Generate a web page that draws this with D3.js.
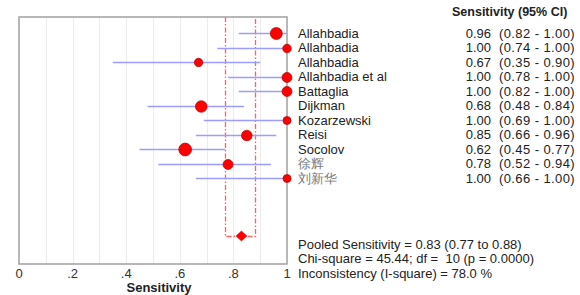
<!DOCTYPE html>
<html>
<head>
<meta charset="utf-8">
<script src="https://d3js.org/d3.v7.min.js"></script>
<style>
  body { margin: 0; background: #fff; }
  svg { display: block; font-family: "Liberation Sans", Arial, sans-serif; }
</style>
</head>
<body>
<svg id="chart" width="580" height="295"></svg>
<script>
// study data
const studies = ["Allahbadia", "Allahbadia", "Allahbadia", "Allahbadia et al", "Battaglia", "Dijkman", "Kozarzewski", "Reisi", "Socolov", "徐辉", "刘新华"];
const sens = [0.96, 1.00, 0.67, 1.00, 1.00, 0.68, 1.00, 0.85, 0.62, 0.78, 1.00];
const lower = [0.82, 0.74, 0.35, 0.78, 0.82, 0.48, 0.69, 0.66, 0.45, 0.52, 0.66];
const upper = [1.00, 1.00, 0.90, 1.00, 1.00, 0.84, 1.00, 0.96, 0.77, 0.94, 1.00];
const weights = [6, 4.3, 4.2, 5, 5, 5.8, 4, 5.3, 6.4, 5, 4];
const pooled = { est: 0.83, lo: 0.77, hi: 0.88 };
const xTicks = [0, 0.2, 0.4, 0.6, 0.8, 1];
const statLines = [
  "Pooled Sensitivity = 0.83 (0.77 to 0.88)",
  "Chi-square = 45.44; df =  10 (p = 0.0000)",
  "Inconsistency (I-square) = 78.0 %"
];

const svg = d3.select("#chart");
const pl = 19, pr = 287, pt = 17, pb = 264;

const x = d3.scaleLinear().domain([0, 1]).range([pl, pr]);
const y = d3.scaleLinear().domain([0, 10]).range([33, 178]);
const yr = i => Math.round(y(i)) + 0.5;
const xr = v => Math.round(x(v)) + 0.5;
const yPooled = 236;

// gridlines
svg.append("g").selectAll("line")
  .data(d3.range(1, 10).map(d => d / 10))
  .join("line")
  .attr("x1", d => xr(d)).attr("x2", d => xr(d))
  .attr("y1", pt).attr("y2", pb)
  .attr("stroke", "#ececec").attr("stroke-width", 1);

// pooled CI dashed bracket
svg.append("path")
  .attr("d", `M${xr(pooled.lo)},${pt} V${yPooled + 0.5} H${xr(pooled.hi)} V${pt}`)
  .attr("stroke", "#ff6060").attr("stroke-width", 1.3)
  .attr("stroke-dasharray", "5,2,1.5,2").attr("fill", "none");

// box
svg.append("rect")
  .attr("x", pl).attr("y", pt)
  .attr("width", pr - pl).attr("height", pb - pt)
  .attr("fill", "none").attr("stroke", "#a0a0a0").attr("stroke-width", 1.5);

// CI lines
svg.append("g").selectAll("line")
  .data(studies)
  .join("line")
  .attr("x1", (d, i) => x(lower[i])).attr("x2", (d, i) => x(upper[i]))
  .attr("y1", (d, i) => yr(i)).attr("y2", (d, i) => yr(i))
  .attr("stroke", "#9d9dff").attr("stroke-width", 1.3);

// point estimates
svg.append("g").selectAll("circle")
  .data(studies)
  .join("circle")
  .attr("cx", (d, i) => x(sens[i])).attr("cy", (d, i) => yr(i))
  .attr("r", (d, i) => weights[i])
  .attr("fill", "#ff0000").attr("stroke", "#b00000").attr("stroke-width", 0.7);

// pooled diamond
const dx = 5.5, dy = 5;
svg.append("path")
  .attr("d", `M${x(pooled.est) - dx},${yPooled} L${x(pooled.est)},${yPooled - dy} L${x(pooled.est) + dx},${yPooled} L${x(pooled.est)},${yPooled + dy} Z`)
  .attr("fill", "#ff0000").attr("stroke", "#d00000").attr("stroke-width", 0.5);

// x axis labels
svg.append("g").selectAll("text")
  .data(xTicks)
  .join("text")
  .attr("x", d => x(d)).attr("y", 278)
  .attr("text-anchor", "middle")
  .attr("font-size", 13).attr("fill", "#333")
  .text(d => d === 0 ? "0" : d === 1 ? "1" : d3.format(".1f")(d).replace(/^0/, ""));

svg.append("text")
  .attr("x", 159).attr("y", 292)
  .attr("text-anchor", "middle")
  .attr("font-size", 13).attr("font-weight", "bold").attr("fill", "#222")
  .text("Sensitivity");

// header
svg.append("text")
  .attr("x", 452).attr("y", 16)
  .attr("font-size", 12.5).attr("font-weight", "bold").attr("fill", "#222")
  .text("Sensitivity (95% CI)");

// study labels and values
const rows = svg.append("g").attr("font-size", 13).attr("fill", "#222");
rows.selectAll("text.name")
  .data(studies)
  .join("text")
  .attr("class", "name")
  .attr("x", 298).attr("y", (d, i) => y(i) + 4.6)
  .attr("fill", (d, i) => i >= 9 ? "#777" : "#222")
  .text(d => d);
rows.selectAll("text.val")
  .data(sens)
  .join("text")
  .attr("class", "val")
  .attr("x", 491).attr("y", (d, i) => y(i) + 4.6)
  .attr("text-anchor", "end")
  .text(d => d3.format(".2f")(d));
rows.selectAll("text.ci")
  .data(studies)
  .join("text")
  .attr("class", "ci")
  .attr("x", 499).attr("y", (d, i) => y(i) + 4.6)
  .attr("letter-spacing", 0.4)
  .text((d, i) => `(${d3.format(".2f")(lower[i])} - ${d3.format(".2f")(upper[i])})`);

// stats
svg.append("g").attr("font-size", 13).attr("fill", "#222")
  .selectAll("text")
  .data(statLines)
  .join("text")
  .attr("x", 298).attr("y", (d, i) => 248.5 + i * 14.5)
  .style("white-space", "pre")
  .text(d => d);
</script>
</body>
</html>
